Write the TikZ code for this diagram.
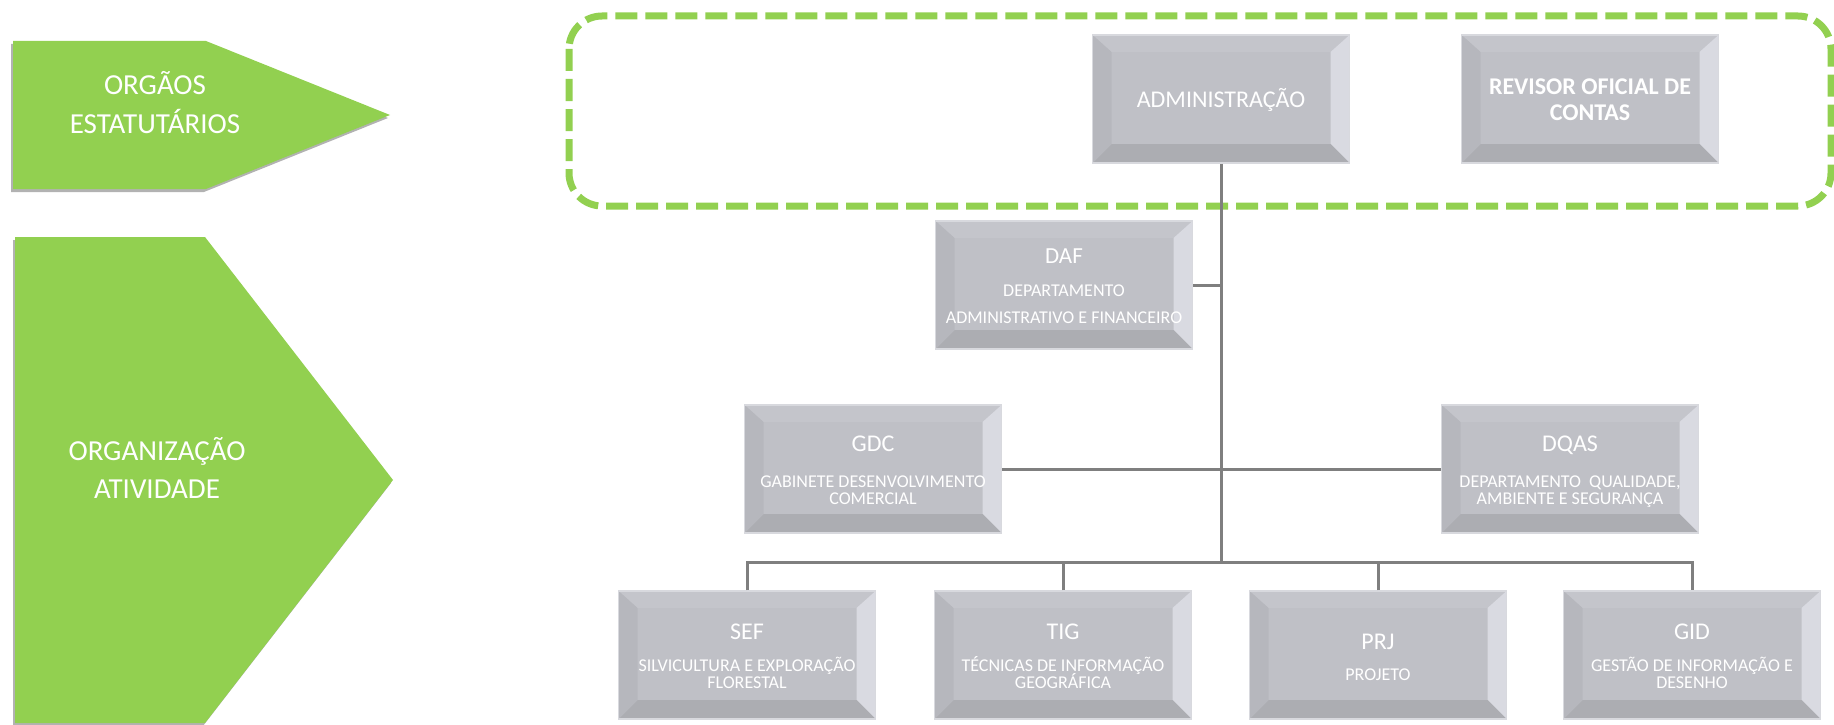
\documentclass[tikz,border=0pt]{standalone}
\usepackage{fontspec}
\setmainfont{Carlito}
\usetikzlibrary{shadows}
\definecolor{verde}{HTML}{92D050}
\definecolor{linha}{HTML}{7F7F7F}
\definecolor{face}{HTML}{BFC0C6}
\definecolor{btop}{HTML}{C4C5CB}
\definecolor{bleft}{HTML}{B6B7BD}
\definecolor{bright}{HTML}{D9DAE1}
\definecolor{bbottom}{HTML}{ACADB2}
\definecolor{bedge}{HTML}{D8D9DE}
\tikzset{
  orgbox/.style={draw=bedge, line width=1.5pt, fill=face, minimum width=257pt,
    minimum height=128pt, inner sep=0pt,
    path picture={
      \fill[btop] (path picture bounding box.north west) -- (path picture bounding box.north east)
        -- ([shift={(-19pt,-17pt)}]path picture bounding box.north east)
        -- ([shift={(19pt,-17pt)}]path picture bounding box.north west) -- cycle;
      \fill[bright] (path picture bounding box.north east) -- (path picture bounding box.south east)
        -- ([shift={(-19pt,19pt)}]path picture bounding box.south east)
        -- ([shift={(-19pt,-17pt)}]path picture bounding box.north east) -- cycle;
      \fill[bbottom] (path picture bounding box.south east) -- (path picture bounding box.south west)
        -- ([shift={(19pt,19pt)}]path picture bounding box.south west)
        -- ([shift={(-19pt,19pt)}]path picture bounding box.south east) -- cycle;
      \fill[bleft] (path picture bounding box.south west) -- (path picture bounding box.north west)
        -- ([shift={(19pt,-17pt)}]path picture bounding box.north west)
        -- ([shift={(19pt,19pt)}]path picture bounding box.south west) -- cycle;
    }},
  ttl/.style={text=white, anchor=base, inner sep=0pt, font=\fontsize{24}{24}\selectfont},
  ttlb/.style={text=white, anchor=base, inner sep=0pt, font=\fontsize{24}{24}\selectfont\bfseries},
  sub/.style={text=white, anchor=base, inner sep=0pt, font=\fontsize{18}{18}\selectfont},
  big/.style={text=white, anchor=base, inner sep=0pt, font=\fontsize{29}{29}\selectfont},
  conn/.style={draw=linha, line width=3pt},
  arrowshape/.style={fill=verde, drop shadow={shadow xshift=-2pt, shadow yshift=-3pt, opacity=0.3, fill=black}},
  dashbox/.style={draw=verde, line width=7pt, dash pattern=on 22pt off 8pt, rounded corners=33pt}
}
\begin{document}
\begin{tikzpicture}[x=1pt,y=-1pt]
\useasboundingbox (0,0) rectangle (1834,725);

% left pentagons
\path[arrowshape] (13,41) -- (206,41) -- (390,115) -- (206,189) -- (13,189) -- cycle;
\path[arrowshape] (15,237) -- (205,237) -- (393,480) -- (205,723) -- (15,723) -- cycle;
\node[big] (org-1) at (155,95) {ORGÃOS};
\node[big] (org-2) at (155,133) {ESTATUTÁRIOS};
\node[big] (ati-1) at (157,460) {ORGANIZAÇÃO};
\node[big] (ati-2) at (157,498) {ATIVIDADE};

% dashed frame
\draw[dashbox] (569,16) rectangle (1831,206);

% boxes
\node[orgbox] (admin) at (1221,99) {};
\node[orgbox] (rev) at (1590,99) {};
\node[orgbox] (daf) at (1064,285) {};
\node[orgbox] (gdc) at (873,469) {};
\node[orgbox] (dqas) at (1570,469) {};
\node[orgbox] (sef) at (747,655) {};
\node[orgbox] (tig) at (1063,655) {};
\node[orgbox] (prj) at (1378,655) {};
\node[orgbox] (gid) at (1692,655) {};
\coordinate (bus) at (1221,562);

% connectors
\draw[conn] (admin.south) -- (bus);
\draw[conn] (daf.east) -- (daf.east -| admin.south);
\draw[conn] (gdc.east) -- (dqas.west);
\draw[conn] (sef.north) |- (bus) -| (gid.north);
\draw[conn] (tig.north) -- (tig.north |- bus);
\draw[conn] (prj.north) -- (prj.north |- bus);

% texts
\node[ttl] (admin-t) at (1221,107) {ADMINISTRAÇÃO};
\node[ttlb] (rev-1) at (1590,94.5) {REVISOR OFICIAL DE};
\node[ttlb] (rev-2) at (1590,120.5) {CONTAS};

\node[ttl, font=\fontsize{23}{23}\selectfont] (daf-t) at (1064,263) {DAF};
\node[sub] (daf-1) at (1064,296) {DEPARTAMENTO};
\node[sub] (daf-2) at (1064,323) {ADMINISTRATIVO E FINANCEIRO};

\node[ttl] (gdc-t) at (873,451) {GDC};
\node[sub] (gdc-1) at (873,487) {GABINETE DESENVOLVIMENTO};
\node[sub] (gdc-2) at (873,504) {COMERCIAL};

\node[ttl] (dqas-t) at (1570,451) {DQAS};
\node[sub] (dqas-1) at (1570,487) {DEPARTAMENTO\ \ QUALIDADE,};
\node[sub] (dqas-2) at (1570,504) {AMBIENTE E SEGURANÇA};

\node[ttl] (sef-t) at (747,639) {SEF};
\node[sub] (sef-1) at (747,671) {SILVICULTURA E EXPLORAÇÃO};
\node[sub] (sef-2) at (747,688) {FLORESTAL};

\node[ttl] (tig-t) at (1063,639) {TIG};
\node[sub] (tig-1) at (1063,671) {TÉCNICAS DE INFORMAÇÃO};
\node[sub] (tig-2) at (1063,688) {GEOGRÁFICA};

\node[ttl] (prj-t) at (1378,649) {PRJ};
\node[sub] (prj-1) at (1378,680) {PROJETO};

\node[ttl] (gid-t) at (1692,639) {GID};
\node[sub] (gid-1) at (1692,671) {GESTÃO DE INFORMAÇÃO E};
\node[sub] (gid-2) at (1692,688) {DESENHO};
\end{tikzpicture}
\end{document}
